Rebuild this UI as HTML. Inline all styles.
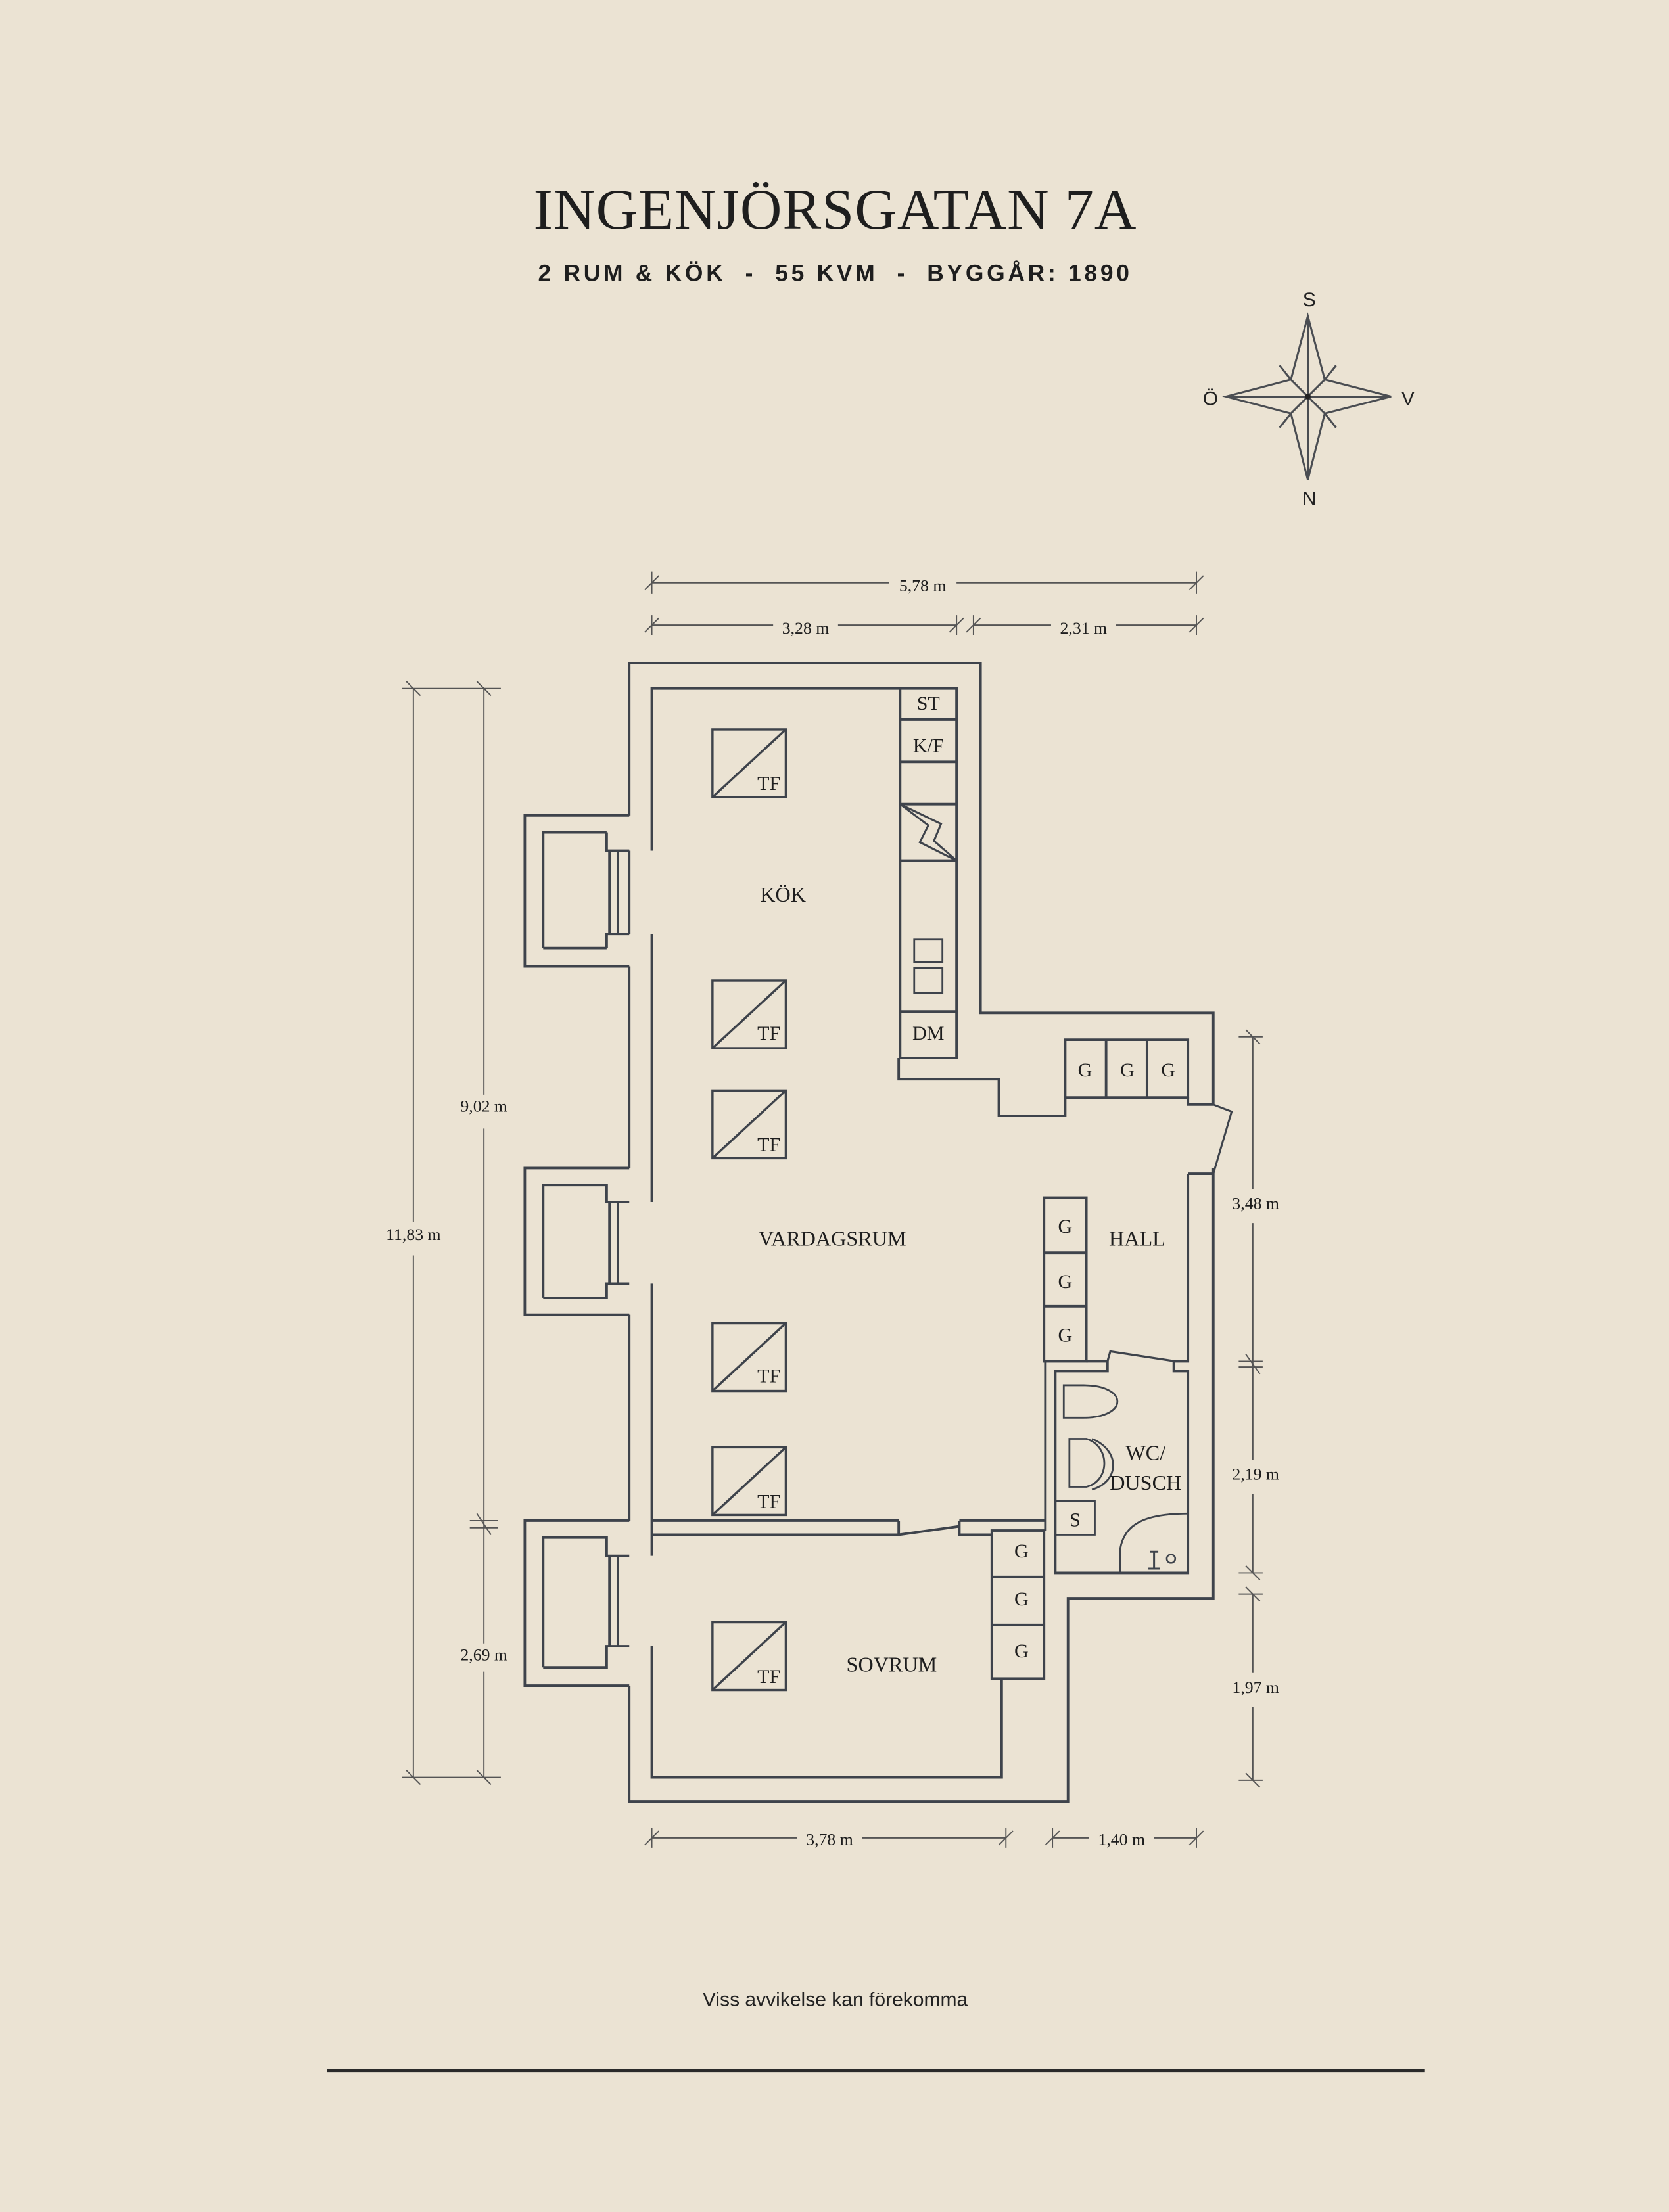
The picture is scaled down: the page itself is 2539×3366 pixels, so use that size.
<!DOCTYPE html>
<html><head><meta charset="utf-8"><style>
html,body{margin:0;padding:0;background:#ebe3d3;}
svg{display:block;}
</style></head><body>
<svg width="2539" height="3366" viewBox="0 0 1183 1568" xmlns="http://www.w3.org/2000/svg">
<rect width="1183" height="1568" fill="#ebe3d3"/>
<text x="592" y="162" text-anchor="middle" font-family="Liberation Serif, serif" font-size="41" fill="#1e1e1e" letter-spacing="0.5">INGENJÖRSGATAN 7A</text>
<text x="592" y="199" text-anchor="middle" font-family="Liberation Sans, sans-serif" font-size="16.5" font-weight="bold" fill="#1e1e1e" letter-spacing="2.2" xml:space="preserve">2 RUM &amp; KÖK  -  55 KVM  -  BYGGÅR: 1890</text>

<!-- compass -->
<g stroke="#4a4d52" stroke-width="1.4" fill="none">
<path d="M927,224 L939,269 L986,281 L939,293 L927,340 L915,293 L869,281 L915,269 Z"/>
<path d="M927,224 L927,340 M869,281 L986,281 M915,269 L939,293 M939,269 L915,293"/>
<path d="M915,269 L907,259 M939,269 L947,259 M915,293 L907,303 M939,293 L947,303"/>
</g>
<circle cx="927" cy="281" r="2" fill="#222"/>
<g font-family="Liberation Sans, sans-serif" font-size="14" fill="#222" text-anchor="middle">
<text x="928" y="217">S</text><text x="928" y="358">N</text><text x="858" y="287">Ö</text><text x="998" y="287">V</text>
</g>

<g stroke="#3e434b" stroke-width="1.8" fill="none" stroke-linejoin="miter">
<path d="M446,578 L446,470 L695,470 L695,718 L860,718 L860,783 M860,828 L860,1133 L757,1133 L757,1277 L446,1277 L446,1195 M446,1078 L446,932 M446,828 L446,685"/>
<path d="M446,578 L372,578 L372,685 L446,685 M385,672 L385,590 L430,590 M430,672 L385,672 M430,590 L430,603 L446,603 M430,672 L430,662 L446,662 M432,603 L432,662 M438,603 L438,662 M446,603 L446,662"/>
<path d="M446,828 L372,828 L372,932 L446,932 M385,920 L385,840 L430,840 L430,852 L446,852 M385,920 L430,920 L430,910 L446,910 M432,852 L432,910 M438,852 L438,910"/>
<path d="M446,1078 L372,1078 L372,1195 L446,1195 M385,1182 L385,1090 L430,1090 L430,1103 L446,1103 M385,1182 L430,1182 L430,1167 L446,1167 M432,1103 L432,1167 M438,1103 L438,1167"/>
<path d="M462,603 L462,488 L638,488 M462,662 L462,852 M462,910 L462,1103 M462,1167 L462,1260 L710,1260 L710,1190"/>
<path d="M638,488 L678,488 L678,750 L638,750 Z M638,510 L678,510 M638,540 L678,540 M638,570 L678,570 M638,610 L678,610 M638,717 L678,717"/>
<path d="M638,570 L658,585 L652,597 L678,610 L662,596 L667,584 Z" stroke-width="1.4"/>
<rect x="648" y="666" width="20" height="16" stroke-width="1.3"/><rect x="648" y="686" width="20" height="18" stroke-width="1.3"/>
<path d="M637,750 L637,765 L708,765 L708,791 L755,791 L755,778"/>
<path d="M755,737 L842,737 L842,778 L755,778 Z M784,737 L784,778 M813,737 L813,778"/>
<path d="M842,778 L842,783 L860,783 M842,832 L860,832 M842,832 L842,965 L832,965 L832,972 L842,972 L842,1115 L748,1115 L748,972 L785,972 L785,965 L770,965"/>
<path d="M860,783 L873,788 L860,832" stroke-width="1.4"/>
<path d="M785,965 L787,958 L833,965" stroke-width="1.5"/>
<rect x="740" y="849" width="30" height="116"/>
<path d="M740,888 L770,888 M740,926 L770,926 M741,965 L741,1085"/>
<path d="M754,982 L768,982 C800,982 800,1005 768,1005 L754,1005 Z" stroke-width="1.3"/>
<path d="M758,1020 L770,1020 C787,1025 787,1050 770,1054 L758,1054 Z M774,1020 C794,1028 794,1050 774,1056" stroke-width="1.3"/>
<rect x="748" y="1064" width="28" height="24" stroke-width="1.3"/>
<path d="M794,1115 L794,1098 C797,1080 812,1073 842,1073" stroke-width="1.3"/>
<circle cx="830" cy="1105" r="3" stroke-width="1.2"/>
<path d="M818,1100 L818,1112 M815,1100 L821,1100 M814,1112 L822,1112" stroke-width="1.4"/>
<path d="M462,1078 L637,1078 M462,1088 L637,1088 M637,1078 L637,1088 M637,1088 L680,1082 M680,1078 L741,1078 M680,1078 L680,1088 L703,1088"/>
<rect x="703" y="1085" width="37" height="105"/>
<path d="M703,1118 L740,1118 M703,1152 L740,1152"/>
</g>

<g stroke="#3e434b" stroke-width="1.6" fill="none">
<rect x="505" y="517" width="52" height="48"/><path d="M505,565 L557,517"/>
<rect x="505" y="695" width="52" height="48"/><path d="M505,743 L557,695"/>
<rect x="505" y="773" width="52" height="48"/><path d="M505,821 L557,773"/>
<rect x="505" y="938" width="52" height="48"/><path d="M505,986 L557,938"/>
<rect x="505" y="1026" width="52" height="48"/><path d="M505,1074 L557,1026"/>
<rect x="505" y="1150" width="52" height="48"/><path d="M505,1198 L557,1150"/>
</g>

<g font-family="Liberation Serif, serif" fill="#1e1e1e" text-anchor="middle">
<g font-size="14">
<text x="545" y="560">TF</text><text x="545" y="737">TF</text><text x="545" y="816">TF</text>
<text x="545" y="980">TF</text><text x="545" y="1069">TF</text><text x="545" y="1193">TF</text>
<text x="658" y="503">ST</text><text x="658" y="533">K/F</text><text x="658" y="737">DM</text>
<text x="769" y="763">G</text><text x="799" y="763">G</text><text x="828" y="763">G</text>
<text x="755" y="874">G</text><text x="755" y="913">G</text><text x="755" y="951">G</text>
<text x="724" y="1104">G</text><text x="724" y="1138">G</text><text x="724" y="1175">G</text>
<text x="762" y="1082">S</text>
</g>
<g font-size="15">
<text x="555" y="639">KÖK</text><text x="590" y="883">VARDAGSRUM</text><text x="806" y="883">HALL</text>
<text x="632" y="1185">SOVRUM</text><text x="812" y="1035">WC/</text><text x="812" y="1056">DUSCH</text>
</g>
<g font-size="12">
<text x="654" y="419">5,78 m</text><text x="571" y="449">3,28 m</text><text x="768" y="449">2,31 m</text>
<text x="343" y="788">9,02 m</text><text x="293" y="879">11,83 m</text><text x="343" y="1177">2,69 m</text>
<text x="890" y="857">3,48 m</text><text x="890" y="1049">2,19 m</text><text x="890" y="1200">1,97 m</text>
<text x="588" y="1308">3,78 m</text><text x="795" y="1308">1,40 m</text>
</g>
</g>

<g stroke="#555" stroke-width="0.9" fill="none">
<path d="M462,413 L630,413 M678,413 L848,413 M462,405 L462,421 M848,405 L848,421 M457,418 L467,408 M843,418 L853,408"/>
<path d="M462,443 L548,443 M594,443 L678,443 M690,443 L745,443 M791,443 L848,443 M462,436 L462,450 M678,436 L678,450 M690,436 L690,450 M848,436 L848,450 M457,448 L467,438 M673,448 L683,438 M685,448 L695,438 M843,448 L853,438"/>
<path d="M293,488 L293,866 M293,890 L293,1260 M343,488 L343,776 M343,800 L343,1080 M343,1080 L343,1165 M343,1185 L343,1260"/>
<path d="M285,488 L355,488 M288,483 L298,493 M338,483 L348,493 M285,1260 L355,1260 M288,1255 L298,1265 M338,1255 L348,1265 M333,1078 L353,1078 M333,1083 L353,1083 M338,1073 L348,1088"/>
<path d="M888,735 L888,843 M888,867 L888,1035 M888,1059 L888,1115 M888,1130 L888,1186 M888,1210 L888,1262"/>
<path d="M878,735 L895,735 M883,730 L893,740 M878,965 L895,965 M878,969 L895,969 M883,960 L893,974 M878,1115 L895,1115 M883,1110 L893,1120 M878,1130 L895,1130 M883,1125 L893,1135 M878,1262 L895,1262 M883,1257 L893,1267"/>
<path d="M462,1303 L565,1303 M611,1303 L713,1303 M746,1303 L772,1303 M818,1303 L848,1303 M462,1296 L462,1310 M713,1296 L713,1310 M746,1296 L746,1310 M848,1296 L848,1310 M457,1308 L467,1298 M708,1308 L718,1298 M741,1308 L751,1298 M843,1308 L853,1298"/>
</g>

<text x="592" y="1422" text-anchor="middle" font-family="Liberation Sans, sans-serif" font-size="14" fill="#222">Viss avvikelse kan förekomma</text>
<path d="M232,1468 L1010,1468" stroke="#2a2a2a" stroke-width="2"/>
</svg>
</body></html>
